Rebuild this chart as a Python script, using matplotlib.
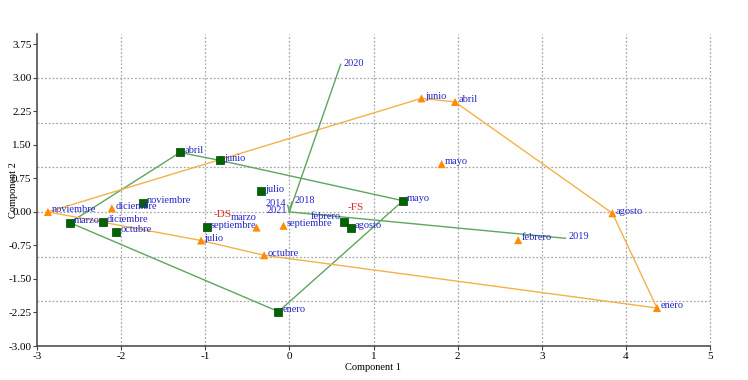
import numpy as np
import matplotlib
matplotlib.use('Agg')
import matplotlib.pyplot as plt

# Puntuaciones PCA por mes, grupo DS (cuadrados verdes)
meses_ds = ['abril', 'junio', 'julio', 'noviembre', 'marzo', 'diciembre',
            'octubre', 'septiembre', 'febrero', 'agosto', 'mayo', 'enero']
ds_x = [-1.30, -0.82, -0.34, -1.74, -2.61, -2.22, -2.06, -0.98, 0.65, 0.73, 1.35, -0.13]
ds_y = [1.33, 1.15, 0.46, 0.21, -0.24, -0.22, -0.44, -0.34, -0.23, -0.35, 0.25, -2.23]
hull_ds = ['marzo', 'abril', 'junio', 'mayo', 'enero', 'marzo']

# Grupo FS (triangulos naranjas)
meses_fs = ['junio', 'abril', 'mayo', 'agosto', 'febrero', 'enero',
            'noviembre', 'diciembre', 'julio', 'marzo', 'septiembre', 'octubre']
fs_x = [1.57, 1.97, 1.81, 3.84, 2.72, 4.37, -2.87, -2.11, -1.05, -0.39, -0.07, -0.30]
fs_y = [2.54, 2.46, 1.07, -0.03, -0.63, -2.15, 0.00, 0.08, -0.64, -0.35, -0.31, -0.97]
hull_fs = ['noviembre', 'junio', 'abril', 'agosto', 'enero', 'octubre', 'julio', 'noviembre']

# Vectores (años)
anios = ['2020', '2019', '2018', '2014', '2021']
vec_x = [0.61, 3.28, 0.03, -0.02, -0.01]
vec_y = [3.30, -0.59, 0.22, 0.15, 0.00]

grupos = ['-DS', '-FS']

x_ticks = np.arange(-3, 6, 1)
y_ticks = np.arange(-3.0, 4.0, 0.75)
grid_y = [-2, -1, 0, 1, 2, 3]
grid_x = [-2, -1, 0, 1, 2, 3, 4, 5]

plt.rcParams['font.family'] = ['Liberation Serif', 'DejaVu Serif']

verde = '#006400'
linea_verde = '#5fa55f'
naranja = '#ff8c00'
linea_naranja = '#f2b24a'
azul = '#2424c8'
rojo = '#e02828'

fig = plt.figure(figsize=(7.48, 3.80), dpi=100)
ax = fig.add_axes([37/748, 1 - 346/380, (710 - 37)/748, (346 - 34)/380])
ax.set_xlim(-3, 5)
ax.set_ylim(-3, 3.98)

# rejilla punteada
for g in grid_y:
    ax.axhline(g, color='#a8a8a8', linestyle=(0, (1.5, 1.5)), linewidth=0.9, zorder=0)
for g in grid_x:
    ax.axvline(g, color='#a8a8a8', linestyle=(0, (1.5, 1.5)), linewidth=0.9, zorder=0, clip_on=False)

# envolventes
pos_ds = dict(zip(meses_ds, zip(ds_x, ds_y)))
pos_fs = dict(zip(meses_fs, zip(fs_x, fs_y)))
ax.plot([pos_ds[m][0] for m in hull_ds], [pos_ds[m][1] for m in hull_ds],
        color=linea_verde, linewidth=1.0, zorder=1)
ax.plot([pos_fs[m][0] for m in hull_fs], [pos_fs[m][1] for m in hull_fs],
        color=linea_naranja, linewidth=1.0, zorder=1)

# vectores
for name, vx, vy in zip(anios, vec_x, vec_y):
    ax.plot([0, vx], [0, vy], color=linea_verde, linewidth=1.0, zorder=1)
    ha = 'left' if vx >= 0 else 'right'
    dx = 2 if vx >= 0 else -1
    ax.annotate(name, (vx, vy), xytext=(dx, 1), textcoords='offset points',
                ha=ha, va='center', fontsize=7.5, color=azul, zorder=4)

# puntos
ax.scatter(ds_x, ds_y, marker='s', s=32, color=verde, edgecolors='#004000',
           linewidths=0.5, zorder=3)
ax.scatter(fs_x, fs_y, marker='^', s=34, color=naranja, edgecolors='none', zorder=3)

# etiquetas de puntos
for m, x, y in zip(meses_ds, ds_x, ds_y):
    if m == 'febrero':
        ax.annotate(m, (x, y), xytext=(-2, 4), textcoords='offset points',
                    ha='right', va='center', fontsize=7.5, color=azul, zorder=4)
    else:
        ax.annotate(m, (x, y), xytext=(3, 1.5), textcoords='offset points',
                    ha='left', va='center', fontsize=7.5, color=azul, zorder=4)
for m, x, y in zip(meses_fs, fs_x, fs_y):
    if m == 'marzo':
        ax.annotate(m, (x, y), xytext=(0, 7.5), textcoords='offset points',
                    ha='right', va='center', fontsize=7.5, color=azul, zorder=4)
    else:
        ax.annotate(m, (x, y), xytext=(2.5, 1.5), textcoords='offset points',
                    ha='left', va='center', fontsize=7.5, color=azul, zorder=4)

# etiquetas de grupo en los centroides
cx = [np.mean(ds_x), np.mean(fs_x)]
cy = [np.mean(ds_y), np.mean(fs_y)]
for g, x, y in zip(grupos, cx, cy):
    ax.text(x, y, g, ha='center', va='center', fontsize=8, color=rojo, zorder=4)

# ejes
ax.set_xticks(x_ticks)
ax.set_yticks(y_ticks)
ax.set_xticklabels([str(t) for t in x_ticks])
ax.set_yticklabels(['%.2f' % t for t in y_ticks])
ax.tick_params(axis='both', direction='out', length=3, width=0.8, labelsize=8,
               pad=1, color='#404040')
for s in ['top', 'right']:
    ax.spines[s].set_visible(False)
for s in ['left', 'bottom']:
    ax.spines[s].set_color('#505050')
    ax.spines[s].set_linewidth(1.2)

fig.text(373/748, 1 - 367/380, 'Component 1', ha='center', va='center', fontsize=7.5)
fig.text(13/748, 1 - 190/380, 'Component 2', ha='center', va='center',
         fontsize=7.5, rotation=90)

fig.savefig('out.png', dpi=100)
